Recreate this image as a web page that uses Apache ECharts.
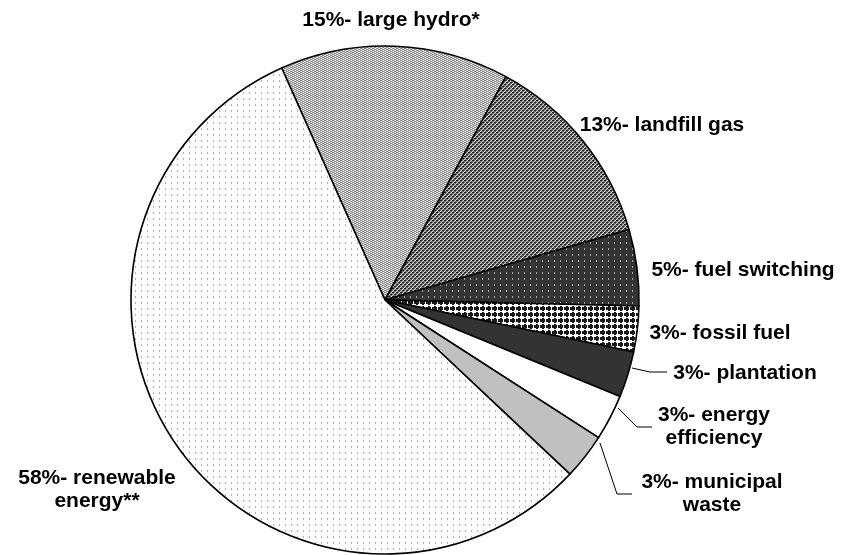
<!DOCTYPE html>
<html>
<head>
<meta charset="utf-8">
<script src="https://cdn.jsdelivr.net/npm/echarts@6/dist/echarts.min.js"></script>
<style>
  html, body { margin: 0; padding: 0; background: #ffffff; }
  #chart { width: 842px; height: 555px; }
</style>
</head>
<body>
<div id="chart"></div>
<script>
// Project categories, clockwise from the top
const categories = ['large hydro*', 'landfill gas', 'fuel switching', 'fossil fuel',
                    'plantation', 'energy efficiency', 'municipal waste', 'renewable energy**'];
// Share of each category, in percent
const shares = [15, 13, 5, 3, 3, 3, 3, 58];
// Categories whose label is split over two lines
const wrapped = [5, 6, 7];

// Small tiled fills drawn on canvases
function tile(w, h, draw) {
  const c = document.createElement('canvas');
  c.width = w; c.height = h;
  const g = c.getContext('2d');
  draw(g);
  return { image: c, repeat: 'repeat' };
}
function px(g, color, pts) {
  g.fillStyle = color;
  pts.forEach(p => g.fillRect(p[0], p[1], p[2] || 1, p[3] || 1));
}

const fills = [
  // light brick-like check
  tile(4, 4, g => {
    px(g, '#ffffff', [[0, 0, 4, 4]]);
    px(g, '#8a8a8a', [[0, 0, 2, 1], [2, 1, 2, 1], [0, 2, 2, 1], [2, 3, 2, 1]]);
    px(g, '#c8c8c8', [[2, 0], [0, 1], [2, 2], [0, 3]]);
  }),
  // darker mixed check
  tile(4, 4, g => {
    px(g, '#6e6e6e', [[0, 0, 4, 4]]);
    px(g, '#1e1e1e', [[0, 0, 2, 1], [2, 2, 2, 1]]);
    px(g, '#d8d8d8', [[2, 1, 1, 1], [0, 3, 1, 1], [3, 0], [1, 2]]);
  }),
  // dark with light dots
  tile(6, 6, g => {
    px(g, '#333333', [[0, 0, 6, 6]]);
    px(g, '#a8a8a8', [[2, 2, 1, 2]]);
  }),
  // black crosses on white
  tile(6, 6, g => {
    px(g, '#ffffff', [[0, 0, 6, 6]]);
    px(g, '#1a1a1a', [[2, 0, 2, 5], [0, 1, 6, 3]]);
    px(g, '#ffffff', [[5, 1, 1, 3]]);
    px(g, '#1a1a1a', [[1, 1, 4, 3]]);
  }),
  '#333333',
  '#ffffff',
  '#c0c0c0',
  // white with sparse grey dots
  tile(6, 6, g => {
    px(g, '#ffffff', [[0, 0, 6, 6]]);
    px(g, '#b0b0b0', [[3, 2, 1, 2]]);
  })
];

// Label anchor points (centre of text) and leader lines
const labelPos = [
  [391, 20], [662, 125], [743, 270], [720, 333],
  [745, 373], [714, 427], [712, 494], [97, 490]
];
const leaders = {
  4: [[632, 368], [650, 372], [667, 372]],
  5: [[618, 408], [637, 427], [652, 427]],
  6: [[600, 443], [617, 494], [632, 494]]
};

const data = categories.map((name, i) => ({
  name: name,
  value: shares[i],
  itemStyle: { color: fills[i] },
  labelLine: { show: !!leaders[i] }
}));

const chart = echarts.init(document.getElementById('chart'), null, { renderer: 'canvas' });
chart.setOption({
  animation: false,
  backgroundColor: '#ffffff',
  series: [{
    type: 'pie',
    center: [385, 300],
    radius: 254,
    startAngle: 114,
    clockwise: true,
    avoidLabelOverlap: false,
    silent: true,
    data: data,
    itemStyle: { borderColor: '#000000', borderWidth: 1.6 },
    label: {
      show: true,
      position: 'outside',
      color: '#000000',
      fontFamily: 'Liberation Sans, Arial, sans-serif',
      fontWeight: 'bold',
      fontSize: 21,
      lineHeight: 23,
      align: 'center',
      formatter: p => {
        const name = wrapped.indexOf(p.dataIndex) >= 0 ? p.name.replace(' ', '\n') : p.name;
        return p.value + '%- ' + name;
      }
    },
    labelLine: { show: true, lineStyle: { color: '#000000', width: 1 } },
    labelLayout: p => {
      const i = p.dataIndex;
      const out = { x: labelPos[i][0], y: labelPos[i][1], align: 'center', verticalAlign: 'middle' };
      if (leaders[i]) out.labelLinePoints = leaders[i];
      return out;
    }
  }]
});
</script>
</body>
</html>
